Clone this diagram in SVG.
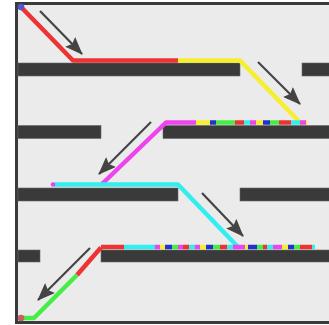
<svg xmlns="http://www.w3.org/2000/svg" width="329" height="325" viewBox="0 0 329 325">
<defs>
<style>
.bar{fill:#3a3a3a;stroke:#6a6a6a;stroke-width:0.6}
.p{fill:none;stroke-width:4.5;stroke-linejoin:round}
.arr{stroke:#444;stroke-width:2.2;fill:none;marker-end:url(#ah)}
#row2 line,#row4 line{stroke-width:4.5}
</style>
<marker id="ah" markerUnits="userSpaceOnUse" markerWidth="18" markerHeight="14" refX="17" refY="7" orient="auto">
<path d="M0,0 L18,7 L0,14 L3,7 z" fill="#444"/>
</marker>
</defs>
<rect x="0" y="0" width="329" height="325" fill="#ffffff"/>
<rect id="frame" x="16.5" y="3.5" width="330" height="319" fill="#ebebeb" stroke="#3a3a3a" stroke-width="3"/>
<g id="shelves">
<rect id="s1a" class="bar" x="18" y="63" width="222" height="13"/>
<rect id="s1b" class="bar" x="302" y="63" width="30" height="13"/>
<rect id="s2a" class="bar" x="18" y="125.5" width="83" height="13"/>
<rect id="s2b" class="bar" x="163" y="125.5" width="170" height="13"/>
<rect id="s3a" class="bar" x="18" y="188" width="160" height="13"/>
<rect id="s3b" class="bar" x="240" y="188" width="92" height="13"/>
<rect id="s4a" class="bar" x="18" y="250" width="22" height="12"/>
<rect id="s4b" class="bar" x="101" y="250" width="232" height="12"/>
</g>
<g id="connectors">
<g id="pathA">
<polyline class="p" stroke="#ee3333" points="21,7 73,60.5 178,60.5"/>
<polyline class="p" stroke="#f5ef2e" points="178,60.5 240,60.5 300,122.5 307,122.5"/>
</g>
<g id="pathB">
<polyline class="p" stroke="#ee44ee" points="196,122.5 166,122.5 102,184"/>
</g>
<g id="row2">
<line x1="196" y1="122.5" x2="210" y2="122.5" stroke="#f5ef2e"/>
<line x1="210" y1="122.5" x2="216" y2="122.5" stroke="#2233cc"/>
<line x1="216" y1="122.5" x2="235" y2="122.5" stroke="#44ee44"/>
<line x1="235" y1="122.5" x2="244" y2="122.5" stroke="#ee3333"/>
<line x1="244" y1="122.5" x2="250" y2="122.5" stroke="#33eeee"/>
<line x1="250" y1="122.5" x2="256" y2="122.5" stroke="#ee44ee"/>
<line x1="256" y1="122.5" x2="263" y2="122.5" stroke="#f5ef2e"/>
<line x1="263" y1="122.5" x2="270" y2="122.5" stroke="#2233cc"/>
<line x1="270" y1="122.5" x2="279" y2="122.5" stroke="#44ee44"/>
<line x1="279" y1="122.5" x2="291" y2="122.5" stroke="#ee3333"/>
<line x1="291" y1="122.5" x2="300" y2="122.5" stroke="#33eeee"/>
<line x1="300" y1="122.5" x2="306" y2="122.5" stroke="#ee44ee"/>
</g>
<g id="pathC">
<polyline class="p" stroke="#33eeee" points="54,184.5 178,184.5 238,247"/>
<circle cx="53" cy="184.5" r="2.3" fill="#ee44ee"/>
</g>
<g id="row4">
<line x1="101" y1="247" x2="124" y2="247" stroke="#ee3333"/>
<line x1="124" y1="247" x2="155" y2="247" stroke="#33eeee"/>
<line x1="155" y1="247" x2="160" y2="247" stroke="#ee44ee"/>
<line x1="160" y1="247" x2="165" y2="247" stroke="#f5ef2e"/>
<line x1="165" y1="247" x2="172" y2="247" stroke="#2233cc"/>
<line x1="172" y1="247" x2="178" y2="247" stroke="#44ee44"/>
<line x1="178" y1="247" x2="183" y2="247" stroke="#ee44ee"/>
<line x1="183" y1="247" x2="189" y2="247" stroke="#ee3333"/>
<line x1="189" y1="247" x2="195" y2="247" stroke="#33eeee"/>
<line x1="195" y1="247" x2="200" y2="247" stroke="#ee44ee"/>
<line x1="200" y1="247" x2="206" y2="247" stroke="#f5ef2e"/>
<line x1="206" y1="247" x2="213" y2="247" stroke="#2233cc"/>
<line x1="213" y1="247" x2="220" y2="247" stroke="#44ee44"/>
<line x1="220" y1="247" x2="227" y2="247" stroke="#ee3333"/>
<line x1="227" y1="247" x2="233" y2="247" stroke="#33eeee"/>
<line x1="233" y1="247" x2="245" y2="247" stroke="#ee44ee"/>
<line x1="245" y1="247" x2="248" y2="247" stroke="#f5ef2e"/>
<line x1="248" y1="247" x2="257" y2="247" stroke="#2233cc"/>
<line x1="257" y1="247" x2="263" y2="247" stroke="#44ee44"/>
<line x1="263" y1="247" x2="267" y2="247" stroke="#ee3333"/>
<line x1="267" y1="247" x2="273" y2="247" stroke="#33eeee"/>
<line x1="273" y1="247" x2="282" y2="247" stroke="#ee44ee"/>
<line x1="282" y1="247" x2="288" y2="247" stroke="#f5ef2e"/>
<line x1="288" y1="247" x2="294" y2="247" stroke="#2233cc"/>
<line x1="294" y1="247" x2="300" y2="247" stroke="#44ee44"/>
<line x1="300" y1="247" x2="312" y2="247" stroke="#ee3333"/>
<line x1="312" y1="247" x2="315" y2="247" stroke="#33eeee"/>
</g>
<g id="pathD">
<polyline class="p" stroke="#ee3333" points="101,247.5 77,275"/>
<polyline class="p" stroke="#44ee44" points="77,275 34,318 22,318"/>
</g>
<g id="arrows">
<line class="arr" x1="40" y1="11" x2="82" y2="54"/>
<line class="arr" x1="258" y1="62" x2="300" y2="104"/>
<line class="arr" x1="151" y1="122" x2="99" y2="174"/>
<line class="arr" x1="202" y1="193" x2="243" y2="236"/>
<line class="arr" x1="90" y1="248" x2="38" y2="300"/>
</g>
</g>
<g id="endpoints">
<circle id="start" cx="21" cy="7" r="3.3" fill="#5555cc"/>
<circle id="end" cx="21" cy="318" r="3.3" fill="#c86060"/>
</g>
</svg>
